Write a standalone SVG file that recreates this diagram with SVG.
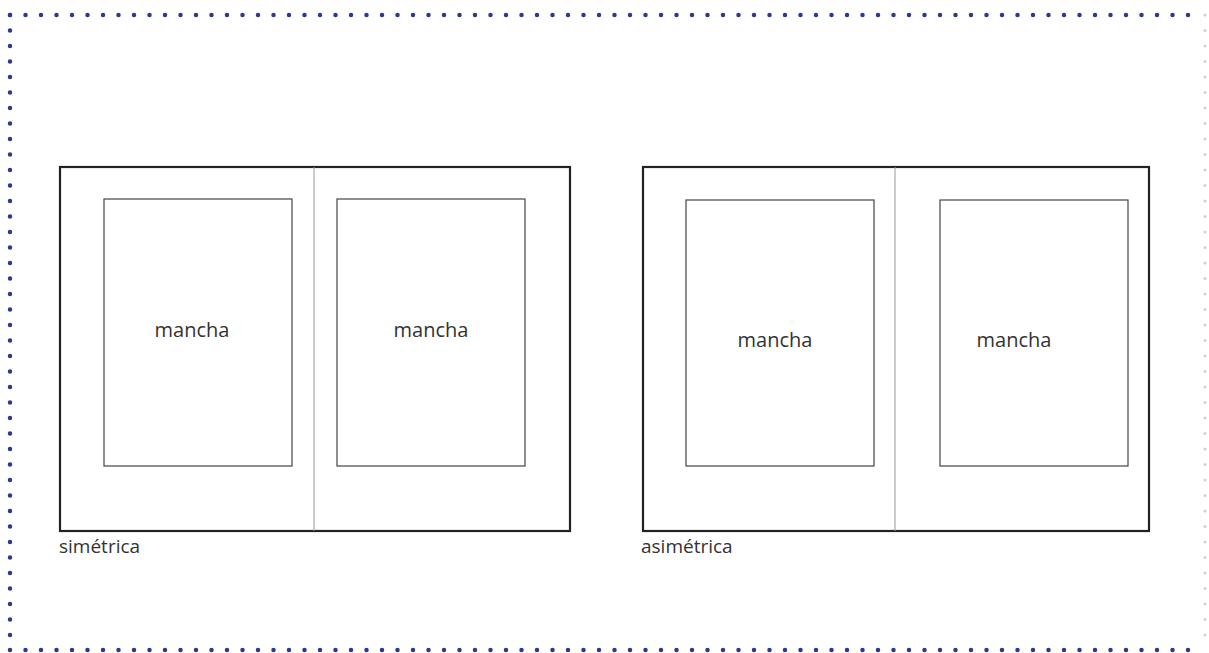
<svg xmlns="http://www.w3.org/2000/svg" width="1209" height="653" viewBox="0 0 1209 653">
<defs>
<style>
.frame{fill:none;stroke:#2b3a8c;stroke-width:4.5;stroke-linecap:round;stroke-dasharray:0 15.5}
.frameR{fill:none;stroke:#c9d0e6;stroke-width:3;stroke-linecap:round;stroke-dasharray:0 15.5}
.outer{fill:#fff;stroke:#222;stroke-width:2.2}
.inner{fill:#fff;stroke:#444;stroke-width:1.2}
.spine{stroke:#999;stroke-width:1}
.lbl{font-family:"Open Sans","Liberation Sans",sans-serif;font-size:20px;fill:#333}
.cap{font-family:"Open Sans","Liberation Sans",sans-serif;font-size:19px;fill:#333}
</style>
</defs>
<rect width="1209" height="653" fill="#fff"/>
<g id="frame">
<line class="frame" x1="10" y1="15" x2="1200" y2="15"/>
<line class="frame" x1="10" y1="15" x2="10" y2="650"/>
<line class="frame" x1="10" y1="650" x2="1200" y2="650"/>
<line class="frameR" x1="1205" y1="15" x2="1205" y2="650"/>
</g>
<g id="simetrica">
<rect class="outer" x="60" y="167" width="510" height="364"/>
<line class="spine" x1="314" y1="167" x2="314" y2="531"/>
<rect class="inner" x="104" y="199" width="188" height="267"/>
<rect class="inner" x="337" y="199" width="188" height="267"/>
<text class="lbl" x="192" y="337" text-anchor="middle">mancha</text>
<text class="lbl" x="431" y="337" text-anchor="middle">mancha</text>
<text class="cap" x="59" y="553">simétrica</text>
</g>
<g id="asimetrica">
<rect class="outer" x="643" y="167" width="506" height="364"/>
<line class="spine" x1="895" y1="167" x2="895" y2="531"/>
<rect class="inner" x="686" y="200" width="188" height="266"/>
<rect class="inner" x="940" y="200" width="188" height="266"/>
<text class="lbl" x="775" y="347" text-anchor="middle">mancha</text>
<text class="lbl" x="1014" y="347" text-anchor="middle">mancha</text>
<text class="cap" x="641" y="553">asimétrica</text>
</g>
<g id="connectors"/>
</svg>
